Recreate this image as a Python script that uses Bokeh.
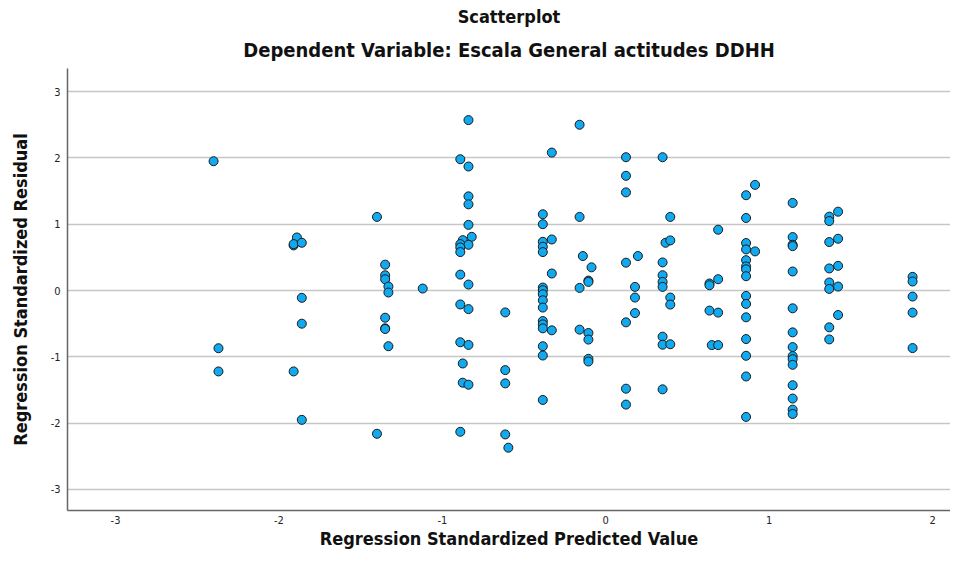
from bokeh.plotting import figure
from bokeh.models import Range1d, FixedTicker, Title, ColumnDataSource
from bokeh.embed import file_html
from bokeh.resources import INLINE

title_text = "Scatterplot"
subtitle_text = "Dependent Variable: Escala General actitudes DDHH"
x_label = "Regression Standardized Predicted Value"
y_label = "Regression Standardized Residual"
x_ticks = [-3, -2, -1, 0, 1, 2]
y_ticks = [-3, -2, -1, 0, 1, 2, 3]

predicted = [
    -2.40, -2.37, -2.37, -1.91, -1.89, -1.91, -1.91, -1.86, -1.86, -1.86, -1.86,
    -1.40, -1.40, -1.35, -1.35, -1.35, -1.33, -1.33, -1.35, -1.35, -1.35, -1.33, -1.12,
    -0.84, -0.89, -0.84, -0.84, -0.84, -0.84, -0.82, -0.875, -0.89, -0.84, -0.89, -0.89,
    -0.89, -0.84, -0.89, -0.84, -0.89, -0.84, -0.875, -0.875, -0.84, -0.89,
    -0.615, -0.615, -0.615, -0.615, -0.596,
    -0.33, -0.385, -0.385, -0.33, -0.385, -0.385, -0.385, -0.33, -0.385, -0.385, -0.385,
    -0.385, -0.385, -0.385, -0.385, -0.385, -0.33, -0.385, -0.385, -0.385,
    -0.16, -0.16, -0.14, -0.087, -0.106, -0.106, -0.16, -0.16, -0.106, -0.106, -0.106, -0.106,
    0.124, 0.124, 0.124, 0.197, 0.124, 0.179, 0.179, 0.179, 0.124, 0.124, 0.124,
    0.348, 0.395, 0.366, 0.395, 0.348, 0.348, 0.348, 0.348, 0.395, 0.395, 0.348, 0.348, 0.395, 0.348,
    0.688, 0.688, 0.635, 0.635, 0.635, 0.688, 0.649, 0.688,
    0.914, 0.859, 0.859, 0.859, 0.859, 0.914, 0.859, 0.859, 0.859, 0.859, 0.859, 0.859,
    0.859, 0.859, 0.859, 0.859, 0.859,
    1.144, 1.144, 1.144, 1.144, 1.144, 1.144, 1.144, 1.144, 1.144, 1.144, 1.144, 1.144,
    1.144, 1.144, 1.144,
    1.422, 1.368, 1.368, 1.368, 1.422, 1.422, 1.368, 1.368, 1.422, 1.368, 1.422, 1.368, 1.368,
    1.878, 1.878, 1.878, 1.878, 1.878,
]

residual = [
    1.95, -0.87, -1.22, -1.22, 0.80, 0.68, 0.70, 0.72, -0.11, -0.50, -1.95,
    1.11, -2.16, 0.39, 0.23, 0.17, 0.06, -0.03, -0.41, -0.57, -0.58, -0.84, 0.03,
    2.57, 1.98, 1.87, 1.42, 1.30, 0.99, 0.81, 0.76, 0.70, 0.69, 0.65, 0.58,
    0.24, 0.09, -0.21, -0.28, -0.78, -0.82, -1.10, -1.39, -1.42, -2.13,
    -0.33, -1.20, -1.40, -2.17, -2.37,
    2.08, 1.15, 1.00, 0.77, 0.735, 0.66, 0.58, 0.257, 0.045, 0.005, -0.056,
    -0.147, -0.257, -0.46, -0.51, -0.57, -0.60, -0.84, -0.98, -1.65,
    2.50, 1.11, 0.52, 0.35, 0.15, 0.13, 0.04, -0.59, -0.64, -0.74, -1.03, -1.07,
    2.01, 1.73, 1.48, 0.52, 0.42, 0.055, -0.106, -0.34, -0.48, -1.48, -1.72,
    2.01, 1.11, 0.72, 0.756, 0.424, 0.231, 0.13, 0.055, -0.106, -0.212, -0.696, -0.817, -0.81, -1.49,
    0.917, 0.171, 0.106, 0.08, -0.303, -0.333, -0.823, -0.823,
    1.593, 1.437, 1.094, 0.716, 0.62, 0.59, 0.458, 0.363, 0.32, 0.216, -0.081, -0.202,
    -0.404, -0.732, -0.984, -1.296, -1.906,
    1.321, 0.806, 0.69, 0.67, 0.287, -0.268, -0.631, -0.853, -0.989, -1.035, -1.12, -1.428,
    -1.629, -1.796, -1.861,
    1.189, 1.114, 1.048, 0.731, 0.781, 0.372, 0.333, 0.121, 0.06, 0.024, -0.369, -0.555, -0.737,
    0.206, 0.136, -0.091, -0.333, -0.868,
]

FONT = "DejaVu Sans Condensed, DejaVu Sans, sans-serif"

source = ColumnDataSource(data=dict(x=predicted, y=residual))

p = figure(width=950, height=551, output_backend="svg", toolbar_location=None,
           x_range=Range1d(-3.294, 2.11), y_range=Range1d(-3.317, 3.348),
           min_border_left=67, min_border_right=0, min_border_top=3, min_border_bottom=10)

sub = Title(text=subtitle_text, align="center", text_font=FONT, text_font_size="20px",
            text_font_style="bold", text_color="#111111", standoff=13)
main = Title(text=title_text, align="center", text_font=FONT, text_font_size="18px",
             text_font_style="bold", text_color="#111111", standoff=6)
p.add_layout(sub, "above")
p.add_layout(main, "above")

p.scatter("x", "y", source=source, size=9, fill_color="#11A9F0", line_color="#1a1a1a",
          line_width=1)

p.outline_line_color = None
p.xgrid.visible = False
p.ygrid.ticker = FixedTicker(ticks=y_ticks)
p.ygrid.grid_line_color = "#c6c6c6"
p.ygrid.grid_line_width = 1.5

p.xaxis.ticker = FixedTicker(ticks=x_ticks)
p.yaxis.ticker = FixedTicker(ticks=y_ticks)
p.xaxis.major_label_overrides = {t: str(t) for t in x_ticks}
p.yaxis.major_label_overrides = {t: str(t) for t in y_ticks}
for ax in (p.xaxis, p.yaxis):
    ax.axis_line_color = "#666666"
    ax.axis_line_width = 1.5
    ax.major_tick_line_color = None
    ax.minor_tick_line_color = None
    ax.major_tick_out = 0
    ax.major_tick_in = 0
    ax.minor_tick_out = 0
    ax.major_label_text_font = FONT
    ax.major_label_text_font_size = "11px"
    ax.major_label_text_color = "#222222"
    ax.axis_label_text_font = FONT
    ax.axis_label_text_font_size = "18px"
    ax.axis_label_text_font_style = "bold"
    ax.axis_label_text_color = "#111111"

p.xaxis.axis_label = x_label
p.yaxis.axis_label = y_label
p.xaxis.major_label_standoff = 5
p.xaxis.axis_label_standoff = 1
p.yaxis.major_label_standoff = 7
p.yaxis.axis_label_standoff = 17

open("out.html", "w").write(file_html(p, INLINE))
